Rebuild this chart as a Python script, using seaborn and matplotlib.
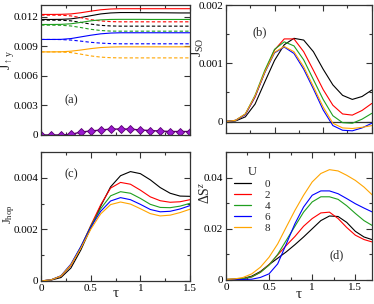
import matplotlib
matplotlib.use("Agg")
import matplotlib.pyplot as plt
import pandas as pd
import seaborn as sns
from matplotlib.ticker import FuncFormatter, MultipleLocator

U_VALUES = ["0", "2", "4", "6", "8"]
U_COLORS = ["#000000", "#ff0000", "#1f9f1f", "#0000ff", "#ffa500"]

TAU = [0.0, 0.1, 0.2, 0.3, 0.4, 0.5, 0.6, 0.7, 0.8, 0.9, 1.0, 1.1, 1.2, 1.3, 1.4, 1.5]
TAU_D = [0.0, 0.1, 0.2, 0.3, 0.4, 0.5, 0.6, 0.7, 0.8, 0.9, 1.0, 1.1, 1.2, 1.3, 1.4, 1.5, 1.6, 1.7]

# (a) J_up,y : solid and dashed branch for each U
JA_SOLID = {
    "0": [0.01172, 0.01172, 0.01173, 0.01178, 0.01192, 0.01210, 0.01228, 0.01238, 0.01242, 0.01242, 0.01241, 0.01240, 0.01240, 0.01239, 0.01238, 0.01238],
    "2": [0.01223, 0.01223, 0.01224, 0.01228, 0.01240, 0.01256, 0.01270, 0.01278, 0.01281, 0.01281, 0.01281, 0.01281, 0.01281, 0.01281, 0.01281, 0.01281],
    "4": [0.01121, 0.01121, 0.01122, 0.01128, 0.01142, 0.01158, 0.01168, 0.01172, 0.01173, 0.01173, 0.01173, 0.01172, 0.01172, 0.01172, 0.01172, 0.01172],
    "6": [0.00969, 0.00969, 0.00970, 0.00978, 0.00995, 0.01012, 0.01026, 0.01034, 0.01037, 0.01037, 0.01037, 0.01037, 0.01037, 0.01037, 0.01037, 0.01037],
    "8": [0.00843, 0.00843, 0.00844, 0.00850, 0.00862, 0.00876, 0.00887, 0.00892, 0.00894, 0.00894, 0.00894, 0.00894, 0.00894, 0.00894, 0.00894, 0.00894],
}
JA_DASHED = {
    "0": [0.01165, 0.01165, 0.01164, 0.01158, 0.01142, 0.01125, 0.01112, 0.01106, 0.01104, 0.01104, 0.01104, 0.01104, 0.01104, 0.01104, 0.01104, 0.01104],
    "2": [0.01216, 0.01216, 0.01215, 0.01208, 0.01190, 0.01170, 0.01157, 0.01150, 0.01148, 0.01148, 0.01148, 0.01148, 0.01148, 0.01148, 0.01148, 0.01148],
    "4": [0.01114, 0.01114, 0.01113, 0.01106, 0.01090, 0.01072, 0.01060, 0.01054, 0.01053, 0.01053, 0.01053, 0.01053, 0.01053, 0.01053, 0.01053, 0.01053],
    "6": [0.00969, 0.00969, 0.00968, 0.00963, 0.00952, 0.00940, 0.00932, 0.00927, 0.00925, 0.00925, 0.00925, 0.00925, 0.00925, 0.00925, 0.00925, 0.00925],
    "8": [0.00843, 0.00843, 0.00842, 0.00836, 0.00820, 0.00802, 0.00790, 0.00784, 0.00782, 0.00782, 0.00782, 0.00782, 0.00782, 0.00782, 0.00782, 0.00782],
}
JA_DIAMOND = [0.0, 0.0, 0.0, 0.00005, 0.0003, 0.0004, 0.0005, 0.0006, 0.0006, 0.0006, 0.0005, 0.00045, 0.0004, 0.00035, 0.00035, 0.00035]

# (b) J_SO
JSO = {
    "0": [0.0, 0.00001, 0.00008, 0.00030, 0.00068, 0.00105, 0.00132, 0.00143, 0.00140, 0.00120, 0.00090, 0.00063, 0.00045, 0.00038, 0.00043, 0.00054],
    "2": [0.0, 0.00002, 0.00012, 0.00042, 0.00085, 0.00123, 0.00142, 0.00142, 0.00120, 0.00088, 0.00055, 0.00028, 0.00013, 0.00011, 0.00019, 0.00031],
    "4": [0.0, 0.00002, 0.00013, 0.00045, 0.00088, 0.00124, 0.00137, 0.00130, 0.00106, 0.00072, 0.00038, 0.00010, -0.00002, -0.00003, 0.00004, 0.00014],
    "6": [0.0, 0.00002, 0.00012, 0.00043, 0.00084, 0.00118, 0.00128, 0.00117, 0.00090, 0.00056, 0.00020, -0.00007, -0.00015, -0.00016, -0.00011, -0.00003],
    "8": [0.0, 0.00002, 0.00013, 0.00044, 0.00085, 0.00119, 0.00129, 0.00120, 0.00094, 0.00060, 0.00025, -0.00003, -0.00011, -0.00012, -0.00010, -0.00007],
}

# (c) J_hop
JHOP = {
    "0": [0.0, 0.00003, 0.00013, 0.00050, 0.00120, 0.00205, 0.00290, 0.00365, 0.00408, 0.00424, 0.00416, 0.00392, 0.00362, 0.00340, 0.00329, 0.00328],
    "2": [0.0, 0.00004, 0.00018, 0.00060, 0.00130, 0.00215, 0.00295, 0.00360, 0.00382, 0.00375, 0.00352, 0.00326, 0.00311, 0.00305, 0.00307, 0.00315],
    "4": [0.0, 0.00004, 0.00019, 0.00063, 0.00132, 0.00212, 0.00280, 0.00330, 0.00346, 0.00340, 0.00320, 0.00297, 0.00285, 0.00284, 0.00290, 0.00301],
    "6": [0.0, 0.00004, 0.00020, 0.00065, 0.00133, 0.00208, 0.00270, 0.00310, 0.00323, 0.00315, 0.00297, 0.00277, 0.00268, 0.00270, 0.00279, 0.00292],
    "8": [0.0, 0.00004, 0.00019, 0.00062, 0.00127, 0.00200, 0.00260, 0.00296, 0.00306, 0.00298, 0.00280, 0.00261, 0.00252, 0.00255, 0.00265, 0.00278],
}

# (d) Delta S^z
DSZ = {
    "0": [0.0002, 0.0003, 0.0006, 0.0015, 0.0033, 0.0060, 0.0085, 0.0110, 0.0138, 0.0168, 0.0200, 0.0232, 0.0250, 0.0248, 0.0225, 0.0190, 0.0168, 0.0157],
    "2": [0.0002, 0.0003, 0.0005, 0.0012, 0.0030, 0.0060, 0.0098, 0.0135, 0.0170, 0.0210, 0.0240, 0.0262, 0.0265, 0.0240, 0.0205, 0.0175, 0.0158, 0.0148],
    "4": [0.0002, 0.0003, 0.0005, 0.0012, 0.0030, 0.0058, 0.0100, 0.0155, 0.0210, 0.0265, 0.0305, 0.0325, 0.0325, 0.0315, 0.0290, 0.0260, 0.0232, 0.0212],
    "6": [0.0001, 0.0001, 0.0002, 0.0003, 0.0010, 0.0024, 0.0063, 0.0141, 0.0220, 0.0285, 0.0331, 0.0348, 0.0348, 0.0337, 0.0318, 0.0298, 0.0281, 0.0265],
    "8": [0.0002, 0.0004, 0.0010, 0.0024, 0.0050, 0.0089, 0.0141, 0.0207, 0.0272, 0.0331, 0.0383, 0.0416, 0.0431, 0.0426, 0.0409, 0.0389, 0.0363, 0.0331],
}


def long_form(tau, series, kind=None) -> pd.DataFrame:
    rows = []
    for u in U_VALUES:
        for t, v in zip(tau, series[u]):
            rows.append({"tau": t, "val": v, "U": u, "kind": kind})
    return pd.DataFrame(rows)


def tick_fmt(v, pos):
    return "0" if abs(v) < 1e-12 else f"{v:g}"


def style_axes(ax, xmax, ymin, ymax, ymajor, yminor, show_xlabels):
    ax.set_xlim(0, xmax)
    ax.set_ylim(ymin, ymax)
    ax.xaxis.set_major_locator(MultipleLocator(0.5))
    ax.xaxis.set_minor_locator(MultipleLocator(0.25))
    ax.yaxis.set_major_locator(MultipleLocator(ymajor))
    if yminor:
        ax.yaxis.set_minor_locator(MultipleLocator(yminor))
    ax.xaxis.set_major_formatter(FuncFormatter(tick_fmt))
    ax.yaxis.set_major_formatter(FuncFormatter(tick_fmt))
    ax.tick_params(which="both", direction="in", top=True, right=True, width=0.8,
                   labelsize=8, pad=2, colors="#333333", labelcolor="black")
    ax.tick_params(which="major", length=4)
    ax.tick_params(which="minor", length=2)
    if not show_xlabels:
        ax.tick_params(axis="x", labelbottom=False)
    for s in ax.spines.values():
        s.set_linewidth(0.9)
        s.set_color("#333333")
    ax.set_xlabel("")


def set_tau_label(ax, ypos):
    ax.set_xlabel("τ", fontsize=11)
    ax.xaxis.set_label_coords(0.5, ypos)
    ax.xaxis.label.set_va("center")


sns.set_theme(style="ticks")
plt.rcParams["font.family"] = ["Liberation Serif", "DejaVu Serif"]
plt.rcParams["mathtext.fontset"] = "custom"
plt.rcParams["mathtext.rm"] = "Liberation Serif"
plt.rcParams["mathtext.it"] = "Liberation Serif:italic"

palette = dict(zip(U_VALUES, U_COLORS))
fig = plt.figure(figsize=(3.74, 3.04), dpi=100)
ax_a = fig.add_axes([0.110, 0.556, 0.398, 0.428])
ax_b = fig.add_axes([0.604, 0.562, 0.390, 0.421])
ax_c = fig.add_axes([0.110, 0.076, 0.398, 0.424])
ax_d = fig.add_axes([0.604, 0.079, 0.390, 0.421])

# (a)
df_a = pd.concat([long_form(TAU, JA_SOLID, "solid"), long_form(TAU, JA_DASHED, "dashed")])
sns.lineplot(data=df_a, x="tau", y="val", hue="U", style="kind", palette=palette,
             hue_order=U_VALUES, dashes={"solid": "", "dashed": (3, 2)},
             estimator=None, linewidth=0.8, legend=False, ax=ax_a)
sns.lineplot(x=TAU, y=JA_DIAMOND, color="#550066", linewidth=1.0, marker="D",
             markersize=3.8, markerfacecolor="#9a1ad0", markeredgecolor="#5a0070",
             markeredgewidth=0.6, ax=ax_a)
style_axes(ax_a, 1.5, 0, 0.0132, 0.003, None, False)
ax_a.set_ylabel(r"$\mathrm{J_{\uparrow y}}$", fontsize=10)
ax_a.yaxis.set_label_coords(-0.165, 0.58)
ax_a.text(0.2, 0.27, "(a)", transform=ax_a.transAxes, fontsize=9, ha="center", va="center")

# (b)
df_b = long_form(TAU, JSO)
ax_b.axhline(0, color="#333333", linewidth=0.9)
sns.lineplot(data=df_b, x="tau", y="val", hue="U", palette=palette, hue_order=U_VALUES,
             estimator=None, linewidth=0.8, legend=False, ax=ax_b)
style_axes(ax_b, 1.5, -0.0002, 0.002, 0.001, 0.0005, False)
ax_b.set_ylabel(r"$\mathrm{J_{SO}}$", fontsize=10)
ax_b.yaxis.set_label_coords(-0.137, 0.67)
ax_b.text(0.23, 0.79, "(b)", transform=ax_b.transAxes, fontsize=9, ha="center", va="center")

# (c)
df_c = long_form(TAU, JHOP)
sns.lineplot(data=df_c, x="tau", y="val", hue="U", palette=palette, hue_order=U_VALUES,
             estimator=None, linewidth=0.8, legend=False, ax=ax_c)
style_axes(ax_c, 1.5, 0, 0.005, 0.002, 0.001, True)
ax_c.set_ylabel(r"$\mathrm{J_{hop}}$", fontsize=9)
ax_c.yaxis.set_label_coords(-0.16, 0.52)
set_tau_label(ax_c, -0.10)
ax_c.text(0.2, 0.83, "(c)", transform=ax_c.transAxes, fontsize=9, ha="center", va="center")

# (d)
df_d = long_form(TAU_D, DSZ)
sns.lineplot(data=df_d, x="tau", y="val", hue="U", palette=palette, hue_order=U_VALUES,
             estimator=None, linewidth=0.8, ax=ax_d)
style_axes(ax_d, 1.69, 0, 0.05, 0.02, 0.01, True)
ax_d.set_ylabel(r"$\Delta\mathrm{S}^z$", fontsize=10)
ax_d.yaxis.set_label_coords(-0.095, 0.68)
set_tau_label(ax_d, -0.115)
ax_d.text(0.76, 0.19, "(d)", transform=ax_d.transAxes, fontsize=9, ha="center", va="center")
leg = ax_d.legend(title="U", loc="upper left", bbox_to_anchor=(0.0, 0.95), frameon=False,
                  fontsize=8, title_fontsize=9, labelspacing=0.1, handlelength=1.6,
                  handletextpad=1.2, borderpad=0.2)
for line in leg.get_lines():
    line.set_linewidth(0.9)

fig.savefig("out.png", dpi=100)
plt.close(fig)
